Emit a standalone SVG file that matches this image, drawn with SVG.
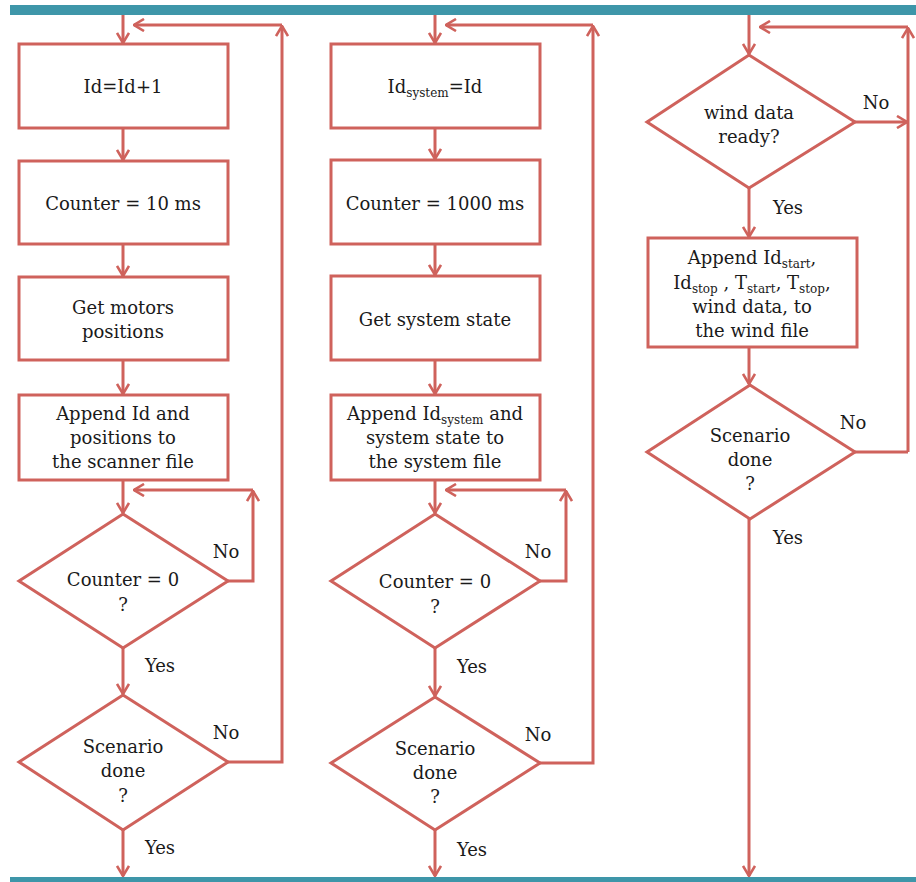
<svg xmlns="http://www.w3.org/2000/svg" width="916" height="882" viewBox="0 0 916 882">
<defs>
<marker id="ah" viewBox="0 0 12 14" refX="11" refY="7" markerWidth="12" markerHeight="14" orient="auto" markerUnits="userSpaceOnUse">
<path d="M1,1 L11,7 L1,13" fill="none" stroke="#cf625c" stroke-width="2.6"/>
</marker>
<style>
.n{fill:#fff;stroke:#cf625c;stroke-width:3}
.c{fill:none;stroke:#cf625c;stroke-width:3}
.a{marker-end:url(#ah)}
text{font-family:"DejaVu Serif","Liberation Serif",serif;font-size:18px;fill:#1a1a1a;text-anchor:middle}
.s{font-size:12px}
.bar{fill:#3e96a9}
</style>
</defs>
<rect class="bar" x="10" y="5" width="906" height="10"/>
<rect class="bar" x="10" y="877" width="906" height="6"/>
<g id="connectors">
<path class="c a" d="M123,15 V43"/>
<path class="c a" d="M123,128 V160"/>
<path class="c a" d="M123,244 V276"/>
<path class="c a" d="M123,360 V394"/>
<path class="c a" d="M123,480 V513"/>
<path class="c a" d="M228,581 H253 V491"/>
<path class="c a" d="M253,490 H134"/>
<path class="c a" d="M123,648 V694"/>
<path class="c a" d="M228,762 H282 V26"/>
<path class="c a" d="M282,25 H134"/>
<path class="c a" d="M123,830 V876"/>
<path class="c a" d="M435,15 V43"/>
<path class="c a" d="M435,128 V159"/>
<path class="c a" d="M435,244 V275"/>
<path class="c a" d="M435,360 V394"/>
<path class="c a" d="M435,480 V513"/>
<path class="c a" d="M540,581 H566 V491"/>
<path class="c a" d="M566,490 H446"/>
<path class="c a" d="M435,648 V696"/>
<path class="c a" d="M540,763 H593 V26"/>
<path class="c a" d="M593,25 H446"/>
<path class="c a" d="M435,830 V876"/>
<path class="c a" d="M749,15 V54"/>
<path class="c a" d="M855,122 H907"/>
<path class="c a" d="M908,452 V28"/>
<path class="c a" d="M908,27 H760"/>
<path class="c a" d="M749,188 V237"/>
<path class="c a" d="M749,347 V384"/>
<path class="c" d="M855,452 H908"/>
<path class="c a" d="M749,519 V876"/>
</g>
<g id="c1b1"><rect class="n" x="19" y="44" width="209" height="84"/><text x="123" y="93">Id=Id+1</text></g>
<g id="c1b2"><rect class="n" x="19" y="161" width="209" height="83"/><text x="123" y="210">Counter = 10 ms</text></g>
<g id="c1b3"><rect class="n" x="19" y="277" width="209" height="83"/><text x="123" y="314">Get motors</text><text x="123" y="338">positions</text></g>
<g id="c1b4"><rect class="n" x="19" y="395" width="209" height="85"/><text x="123" y="420">Append Id and</text><text x="123" y="444">positions to</text><text x="123" y="468">the scanner file</text></g>
<g id="c1d1"><polygon class="n" points="123,514 228,581 123,648 19,581"/><text x="123" y="586">Counter = 0</text><text x="123" y="611">?</text></g>
<g id="c1d2"><polygon class="n" points="123,695 228,762 123,830 19,762"/><text x="123" y="753">Scenario</text><text x="123" y="777">done</text><text x="123" y="802">?</text></g>
<g id="c2b1"><rect class="n" x="331" y="44" width="209" height="84"/><text x="435" y="93">Id<tspan class="s" dy="4">system</tspan><tspan dy="-4">=Id</tspan></text></g>
<g id="c2b2"><rect class="n" x="331" y="160" width="209" height="84"/><text x="435" y="210">Counter = 1000 ms</text></g>
<g id="c2b3"><rect class="n" x="331" y="276" width="209" height="84"/><text x="435" y="326">Get system state</text></g>
<g id="c2b4"><rect class="n" x="331" y="395" width="209" height="85"/><text x="435" y="420">Append Id<tspan class="s" dy="4">system</tspan><tspan dy="-4"> and</tspan></text><text x="435" y="444">system state to</text><text x="435" y="468">the system file</text></g>
<g id="c2d1"><polygon class="n" points="435,514 540,581 435,648 331,581"/><text x="435" y="588">Counter = 0</text><text x="435" y="613">?</text></g>
<g id="c2d2"><polygon class="n" points="435,697 540,763 435,830 331,763"/><text x="435" y="755">Scenario</text><text x="435" y="779">done</text><text x="435" y="803">?</text></g>
<g id="c3d1"><polygon class="n" points="749,55 855,122 749,188 647,122"/><text x="749" y="119">wind data</text><text x="749" y="143">ready?</text></g>
<g id="c3b1"><rect class="n" x="648" y="238" width="209" height="109"/><text x="752" y="264">Append Id<tspan class="s" dy="4">start</tspan><tspan dy="-4">,</tspan></text><text x="752" y="289">Id<tspan class="s" dy="4">stop</tspan><tspan dy="-4"> , T</tspan><tspan class="s" dy="4">start</tspan><tspan dy="-4">, T</tspan><tspan class="s" dy="4">stop</tspan><tspan dy="-4">,</tspan></text><text x="752" y="313">wind data, to</text><text x="752" y="337">the wind file</text></g>
<g id="c3d2"><polygon class="n" points="750,385 855,452 750,519 647,452"/><text x="750" y="442">Scenario</text><text x="750" y="466">done</text><text x="750" y="490">?</text></g>
<g id="labels">
<text x="226" y="558">No</text>
<text x="226" y="739">No</text>
<text x="160" y="672">Yes</text>
<text x="160" y="854">Yes</text>
<text x="538" y="558">No</text>
<text x="538" y="741">No</text>
<text x="472" y="673">Yes</text>
<text x="472" y="856">Yes</text>
<text x="876" y="109">No</text>
<text x="788" y="214">Yes</text>
<text x="853" y="429">No</text>
<text x="788" y="544">Yes</text>
</g>
</svg>
